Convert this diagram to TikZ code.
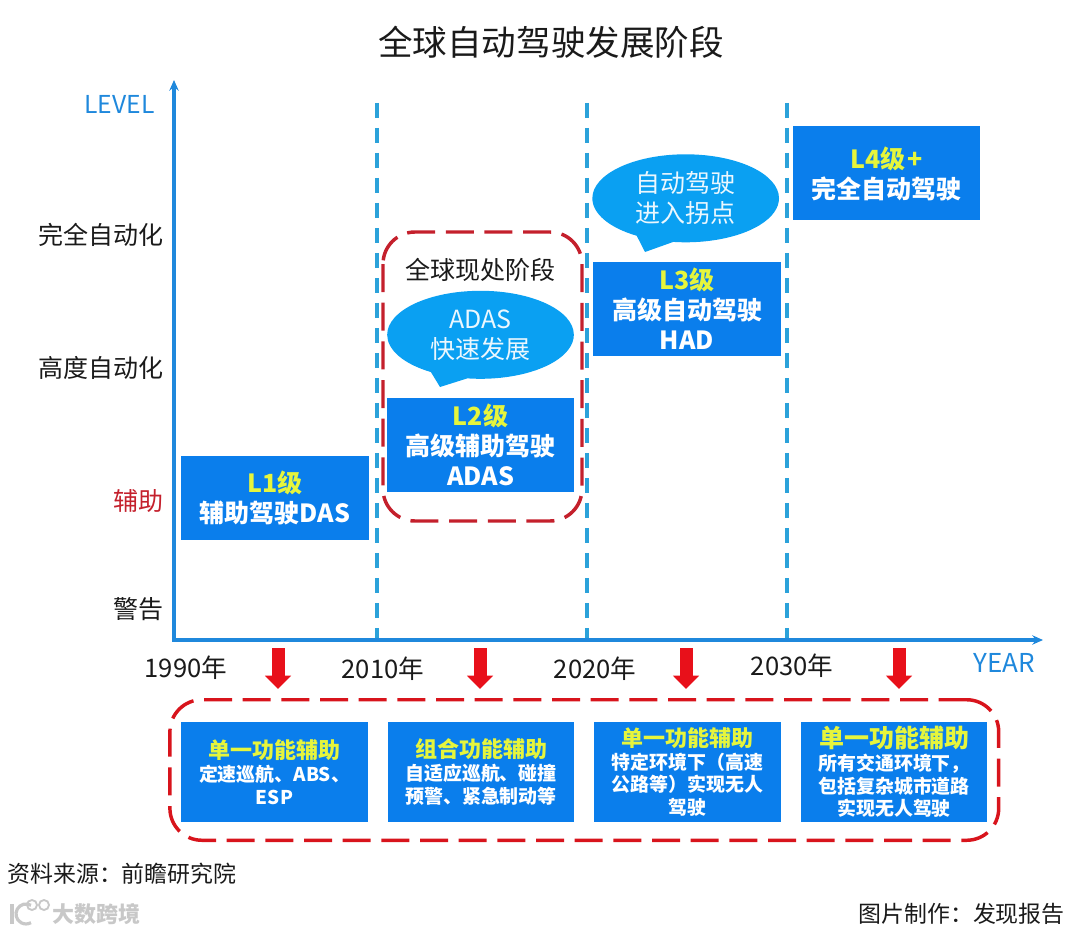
\documentclass[tikz,border=0pt]{standalone}
\usepackage{fontspec}
\setmainfont{Noto Sans CJK SC}
\usetikzlibrary{positioning, shapes.callouts, arrows.meta, fit}
\definecolor{boxBlue}{HTML}{0A7EEC}
\definecolor{bubbleBlue}{HTML}{0AA0F2}
\definecolor{axisBlue}{HTML}{1F88DC}
\definecolor{dashBlue}{HTML}{2BA2DA}
\definecolor{headYellow}{HTML}{E6F53C}
\definecolor{frameRed}{HTML}{C4202C}
\definecolor{caseRed}{HTML}{D8141C}
\definecolor{arrowRed}{HTML}{E8101A}
\definecolor{markGrey}{HTML}{C8C8C8}
\definecolor{textBlack}{HTML}{1A1A1A}
\tikzset{
  levelbox/.style={fill=boxBlue, text=white, inner sep=0pt, minimum width=140.5pt, minimum height=70.5pt,
    align=center, font=\fontsize{18.75}{22.5}\selectfont\bfseries},
  usecasebox/.style={fill=boxBlue, text=white, inner sep=0pt, minimum width=140pt, minimum height=75pt,
    align=center, font=\fontsize{14.2}{17}\selectfont\bfseries},
  bubble/.style={ellipse callout, fill=bubbleBlue, text=white!92!bubbleBlue, inner sep=0pt, callout pointer arc=24,
    minimum width=140pt, minimum height=66pt, align=center, font=\fontsize{18.75}{22.5}\selectfont},
  axislabel/.style={text=textBlack, font=\fontsize{18.75}{22.5}\selectfont},
  yearlabel/.style={text=textBlack, font=\fontsize{19.2}{23}\selectfont},
  footlabel/.style={text=textBlack, inner sep=0pt, font=\fontsize{17.2}{21}\selectfont},
  framebox/.style={line width=2.6pt, dash pattern=on 21pt off 8pt, rounded corners=24pt},
}
\newcommand{\headline}[1]{\textcolor{headYellow}{#1}}
\newcommand{\usehead}[1]{\textcolor{headYellow}{\fontsize{16.5}{19}\selectfont #1}}
\begin{document}
\begin{tikzpicture}[x=0.75pt, y=-0.75pt]
  \useasboundingbox (0,0) rectangle (1080,934);

  \node[font=\fontsize{25.9}{30}\selectfont, text=textBlack] (title) at (551,42) {全球自动驾驶发展阶段};

  % axes
  \coordinate (origin) at (174,640);
  \coordinate (yend) at (174,80);
  \coordinate (xend) at (1043,640);
  \draw[axisBlue, line width=2.3pt, {Stealth[length=8pt,width=7pt]}-{Stealth[length=8pt,width=7pt]}] (yend) -- (origin) -- (xend);
  \node[text=axisBlue, font=\fontsize{18.5}{22}\selectfont] (levelname) at (119.5,104) {LEVEL};
  \node[text=axisBlue, font=\fontsize{19.5}{23}\selectfont] (yearname) at (1004,663) {YEAR};

  \node[axislabel] (full) at (101,235) {完全自动化};
  \node[axislabel] (high) at (101,368) {高度自动化};
  \node[axislabel, text=frameRed] (assist) at (138,501) {辅助};
  \node[axislabel] (warn) at (138,609) {警告};

  % periods
  \foreach \n/\xpos in {p/377,q/587,r/787}{
    \coordinate (top\n) at (\xpos,103);
    \coordinate (foot\n) at (\xpos,638);
    \draw[dashBlue, line width=2.3pt, dash pattern=on 11.25pt off 7.5pt] (top\n) -- (foot\n);
  }
  \node[yearlabel] (ya) at (186,668) {1990年};
  \node[yearlabel] (yb) at (383,669) {2010年};
  \node[yearlabel] (yc) at (595,669) {2020年};
  \node[yearlabel] (yd) at (792,666) {2030年};

  % levels
  \node[levelbox, minimum height=63pt] (lone) at (275,498) {\headline{L1级}\\辅助驾驶DAS};
  \node[levelbox] (ltwo) at (480.5,445) {\headline{L2级}\\高级辅助驾驶\\ADAS};
  \node[levelbox] (lthree) at (687,308.5) {\headline{L3级}\\高级自动驾驶\\HAD};
  \node[levelbox] (lfour) at (886.5,173.5) {\headline{L4级\hspace{1pt}+}\\完全自动驾驶};

  \node[bubble, above=14pt of ltwo, callout absolute pointer={(440,387)}] (adas) {ADAS\\快速发展};
  \node[bubble, above=14pt of lthree, xshift=-1pt, callout absolute pointer={(645,252)}] (turn) {自动驾驶\\进入拐点};
  \node[above=3pt of adas, text=textBlack, font=\fontsize{18.75}{22}\selectfont] (stage) {全球现处阶段};
  \draw[framebox, draw=frameRed] (383,232) rectangle (582,521);

  % use cases
  \node[usecasebox] (ua) at (274.5,772) {\usehead{单一功能辅助}\\定速巡航、ABS、\\ESP};
  \node[usecasebox, right=14.5pt of ua] (ub) {\usehead{组合功能辅助}\\自适应巡航、碰撞\\预警、紧急制动等};
  \node[usecasebox, right=14.5pt of ub] (uc) {\usehead{单一功能辅助}\\特定环境下（高速\\公路等）实现无人\\驾驶};
  \node[usecasebox, right=14.5pt of uc] (ud) {\textcolor{headYellow}{\fontsize{18.75}{21}\selectfont 单一功能辅助}\\所有交通环境下，\\包括复杂城市道路\\实现无人驾驶};
  \node[fit=(ua)(ud), inner xsep=8.25pt, inner ysep=15pt, yshift=1.5pt, framebox, draw=caseRed] (cases) {};

  \foreach \n/\xpos in {a/278,b/480,c/686,d/899}{
    \coordinate (from\n) at (\xpos,648);
    \coordinate (tip\n) at (\xpos,689);
    \draw[arrowRed, line width=9.75pt, -{Triangle[length=10pt,width=19pt]}] (from\n) -- (tip\n);
  }

  % footer
  \node[anchor=west, footlabel] (source) at (7,874) {资料来源：前瞻研究院};
  \node[anchor=east, footlabel] (maker) at (1065,914) {图片制作：发现报告};
  \node[anchor=west, inner sep=0pt, text=markGrey, font=\fontsize{16.5}{20}\selectfont\bfseries] (mark) at (52,914) {大数跨境};
  \draw[markGrey, line width=2.4pt] (12,904) -- (12,924);
  \draw[markGrey, line width=2.4pt] (31,905.3) arc (-60:-300:10);
  \draw[markGrey, line width=1.4pt] (32,905) circle (5) (44,905) circle (5);
\end{tikzpicture}
\end{document}
